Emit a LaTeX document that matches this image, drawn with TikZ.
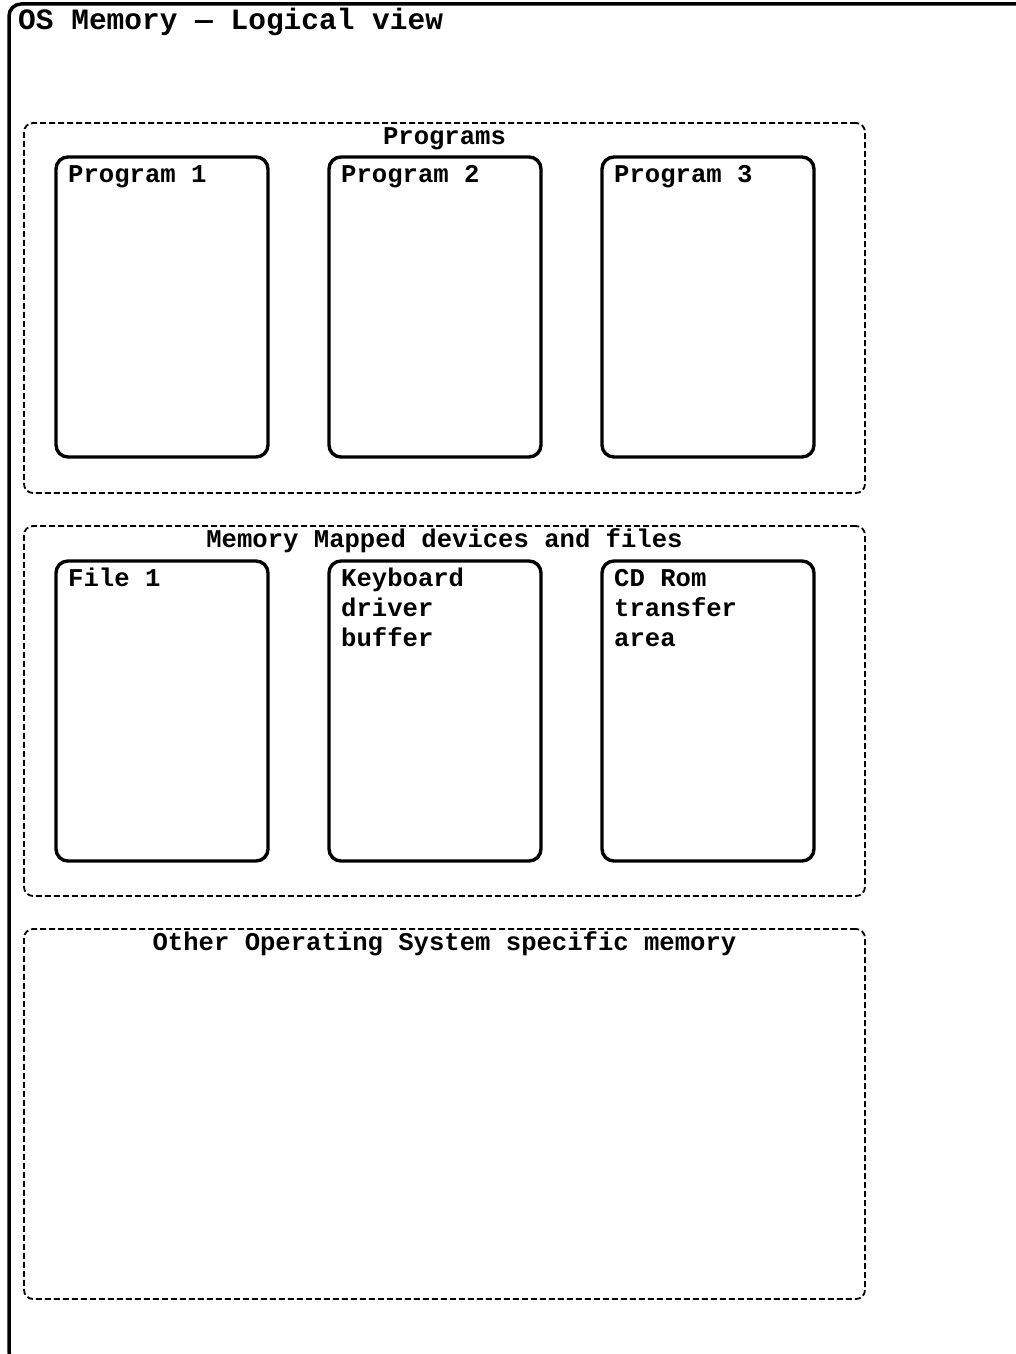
\documentclass[tikz,border=0pt]{standalone}
\usepackage{fontspec}
\setmainfont{Liberation Mono}
\usetikzlibrary{calc}
\tikzset{
  osframe/.style={draw, line width=3.5pt, rounded corners=12pt, outer sep=0pt, inner sep=0pt, anchor=north west},
  group/.style={draw, line width=1.8pt, dash pattern=on 6pt off 3pt, rounded corners=9pt, outer sep=0pt, inner sep=0pt, anchor=north west, minimum width=841pt, minimum height=370pt},
  membox/.style={draw, line width=3.4pt, rounded corners=12pt, outer sep=0pt, inner sep=0pt, anchor=north west, minimum width=212pt, minimum height=300pt},
  lbl/.style={inner sep=0pt, font=\bfseries\fontsize{25.6}{30}\selectfont},
  ttl/.style={inner sep=0pt, font=\bfseries\fontsize{29.5}{34}\selectfont}
}
\newcommand{\boxtext}[1]{\parbox[t]{195pt}{\raggedright #1}}
\begin{document}
\begin{tikzpicture}[x=1pt,y=-1pt]
\useasboundingbox (0,0) rectangle (1016,1354);
\clip (0,0) rectangle (1016,1354);
\node[osframe, minimum width=1040pt, minimum height=1360pt] (os) at (9,4) {};
\node[ttl, anchor=base west] (ostitle) at (18,30) {OS Memory — Logical view};

\node[group] (progs) at (24,123) {};
\node[lbl, anchor=base] (progst) at ($(progs.north)+(0,21)$) {Programs};
\node[membox] (p1) at (56,157) {};
\node[membox] (p2) at (329,157) {};
\node[membox] (p3) at (602,157) {};
\node[lbl, anchor=base west] (p1t) at ($(p1.north west)+(12,25)$) {\boxtext{Program 1}};
\node[lbl, anchor=base west] (p2t) at ($(p2.north west)+(12,25)$) {\boxtext{Program 2}};
\node[lbl, anchor=base west] (p3t) at ($(p3.north west)+(12,25)$) {\boxtext{Program 3}};

\node[group] (mmap) at (24,526) {};
\node[lbl, anchor=base] (mmapt) at ($(mmap.north)+(0,21)$) {Memory Mapped devices and files};
\node[membox] (f1) at (56,561) {};
\node[membox] (kb) at (329,561) {};
\node[membox] (cd) at (602,561) {};
\node[lbl, anchor=base west] (f1t) at ($(f1.north west)+(12,25)$) {\boxtext{File 1}};
\node[lbl, anchor=base west] (kbt) at ($(kb.north west)+(12,25)$) {\boxtext{Keyboard\\driver\\buffer}};
\node[lbl, anchor=base west] (cdt) at ($(cd.north west)+(12,25)$) {\boxtext{CD Rom\\transfer\\area}};

\node[group] (other) at (24,929) {};
\node[lbl, anchor=base] (othert) at ($(other.north)+(0,21)$) {Other Operating System specific memory};
\end{tikzpicture}
\end{document}
